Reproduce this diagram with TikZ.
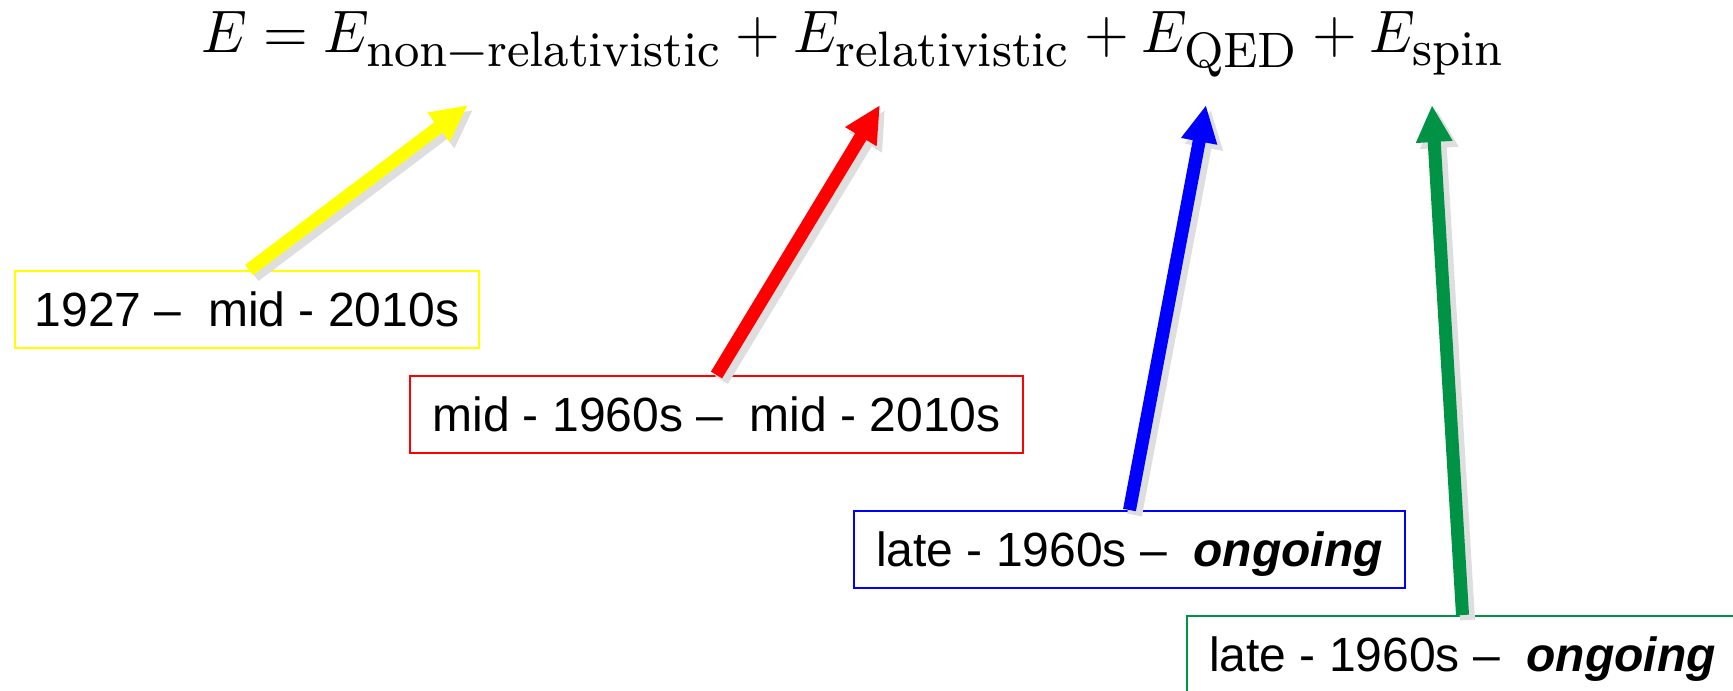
\documentclass[tikz,border=0pt]{standalone}
\usepackage[no-math]{fontspec}
\newfontfamily\sansf{Liberation Sans}
\newcommand\sbs[1]{\mbox{\fontsize{8.3pt}{9pt}\selectfont #1}}
\usetikzlibrary{arrows.meta}
\definecolor{cyel}{RGB}{255,255,0}
\definecolor{cred}{RGB}{255,0,0}
\definecolor{cblue}{RGB}{0,0,255}
\definecolor{cgreen}{RGB}{0,146,69}
\definecolor{cshd}{RGB}{222,222,222}
\tikzset{
  lbl/.style={draw=#1, line width=1pt, fill=white,
    font=\sansf\fontsize{24pt}{28pt}\selectfont,
    minimum height=38.5pt, text height=17.2pt, text depth=0pt, inner sep=0pt},
  arr/.style={draw=#1, line width=6.5pt, -{Triangle[length=18.5pt,width=17pt]}},
  shd/.style={draw=cshd, line width=7.5pt,
    -{Triangle[length=19pt,width=18pt]}, transform canvas={shift={(2.5pt,-2.5pt)}}}
}
\begin{document}
\begin{tikzpicture}[x=0.5pt,y=-0.5pt]
\useasboundingbox (0,0) rectangle (1733,690);
\node[anchor=base west, inner sep=0pt] (eq) at (201,53)
  {\resizebox{652pt}{20.5pt}{$E = E_{\sbs{non−relativistic}} + E_{\sbs{relativistic}} + E_{\sbs{QED}} + E_{\sbs{spin}}$}};
\coordinate (ty) at (468,105);
\coordinate (tr) at (880,105);
\coordinate (tb) at (1206,105);
\coordinate (tg) at (1432,105);
\node[lbl=cyel, minimum width=232pt] (yb) at (247,309.5) {1927 –\ \ mid - 2010s};
\node[lbl=cred, minimum width=306.5pt] (rb) at (716.5,414.5) {mid - 1960s –\ \ mid - 2010s};
\node[lbl=cblue, minimum width=275.5pt] (bb) at (1129.5,549.5) {late - 1960s –\ \ \textbf{\textit{ongoing}}};
\node[lbl=cgreen, minimum width=275.5pt] (gb) at (1462.5,654.5) {late - 1960s –\ \ \textbf{\textit{ongoing}}};
\draw[shd] ([xshift=1pt]yb.north) -- (ty);
\draw[shd] (rb.north) -- (tr);
\draw[shd] (bb.north) -- (tb);
\draw[shd] (gb.north) -- (tg);
\draw[arr=cyel] ([xshift=1pt]yb.north) -- (ty);
\draw[arr=cred] (rb.north) -- (tr);
\draw[arr=cblue] (bb.north) -- (tb);
\draw[arr=cgreen] (gb.north) -- (tg);
\end{tikzpicture}
\end{document}
